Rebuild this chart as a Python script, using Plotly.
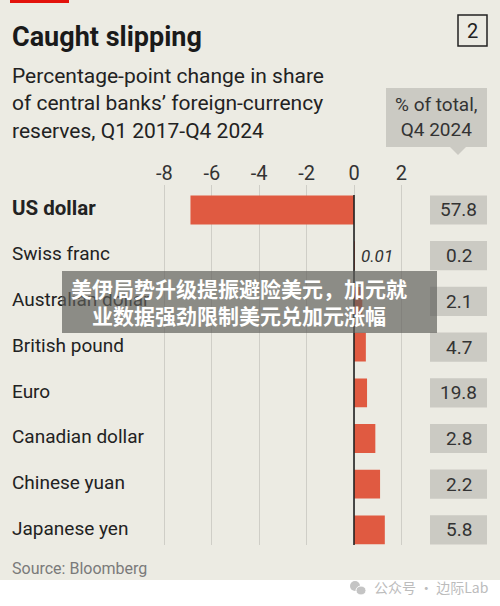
import plotly.graph_objects as go

# ---- data ----
currencies = ["US dollar", "Swiss franc", "Australian dollar", "British pound",
              "Euro", "Canadian dollar", "Chinese yuan", "Japanese yen"]
change_pp = [-6.9, 0.01, 0.35, 0.5, 0.55, 0.9, 1.1, 1.3]
share_q4_2024 = ["57.8", "0.2", "2.1", "4.7", "19.8", "2.8", "2.2", "5.8"]
tick_vals = [-8, -6, -4, -2, 0, 2]
tick_text = ["-8", "-6", "-4", "-2", "0", "2"]

W, H = 500, 606
BG = "#ecebe3"
RED = "#e05a41"
BOX = "#cbcac3"
FONT = "Roboto"

# pixel helpers (paper = whole figure since margins are 0)
def px(x):
    return x / W

def py(y):
    return 1 - y / H

# plot area geometry (pixels)
zero_px = 354.0
unit_px = 23.7
x_lo = (0 - zero_px) / unit_px
x_hi = 2.9
right_px = zero_px + x_hi * unit_px
top_px, bot_px = 185, 545
row0_px, row_step = 210.0, 45.7
y_top = (top_px - row0_px) / row_step
y_bot = (bot_px - row0_px) / row_step
label_x = (12 - zero_px) / unit_px

fig = go.Figure()

fig.add_trace(go.Bar(
    y=currencies, x=change_pp, orientation="h",
    marker=dict(color=RED, line=dict(width=0)),
    width=0.63, hoverinfo="skip", showlegend=False,
))

# category labels (as trace text so the overlay can sit on top)
fig.add_trace(go.Scatter(
    y=currencies, x=[label_x] * len(currencies), mode="text",
    text=[("<b>%s</b>" % c) if i == 0 else c for i, c in enumerate(currencies)],
    textposition="middle right", cliponaxis=False,
    textfont=dict(family=FONT, size=[20.5] + [19] * (len(currencies) - 1), color="#222222"),
    hoverinfo="skip", showlegend=False,
))

shapes = []
annotations = []

# background
shapes.append(dict(type="rect", xref="paper", yref="paper", x0=0, x1=1,
                   y0=py(580), y1=1, fillcolor=BG, line=dict(width=0), layer="below"))
# red tag top-left
shapes.append(dict(type="rect", xref="paper", yref="paper", x0=px(10), x1=px(69),
                   y0=py(3), y1=1, fillcolor="#e3120b", line=dict(width=0), layer="below"))
# zero line
shapes.append(dict(type="line", xref="x", yref="y", x0=0, x1=0,
                   y0=-0.33, y1=y_bot, line=dict(color="#222222", width=1.6), layer="above"))

# value boxes
for i, v in enumerate(share_q4_2024):
    shapes.append(dict(type="rect", xref="paper", yref="y", x0=px(430), x1=px(487),
                       y0=i - 0.32, y1=i + 0.32, fillcolor=BOX,
                       line=dict(width=0), layer="below"))
    annotations.append(dict(xref="paper", yref="y", x=px(458.5), y=i, text=v,
                            showarrow=False, xanchor="center", yanchor="middle",
                            font=dict(family=FONT, size=19, color="#333333")))

# header box with pointer
hx0, hx1, hy0, hy1 = 386, 487, 88, 147
tip_x, tip_y = 458, 155
path = "M %f %f L %f %f L %f %f L %f %f L %f %f L %f %f L %f %f Z" % (
    px(hx0), py(hy0), px(hx1), py(hy0), px(hx1), py(hy1),
    px(tip_x + 8), py(hy1), px(tip_x), py(tip_y), px(tip_x - 8), py(hy1),
    px(hx0), py(hy1))
shapes.append(dict(type="path", xref="paper", yref="paper", path=path,
                   fillcolor=BOX, line=dict(width=0), layer="below"))
annotations.append(dict(xref="paper", yref="paper", x=px(436.5), y=py(117.5),
                        text="% of total,<br>Q4 2024", showarrow=False,
                        xanchor="center", yanchor="middle",
                        font=dict(family=FONT, size=19, color="#333333")))

# chart number box
shapes.append(dict(type="rect", xref="paper", yref="paper", x0=px(458), x1=px(487),
                   y0=py(46), y1=py(15), fillcolor="rgba(0,0,0,0)",
                   line=dict(color="#222222", width=1.5), layer="below"))
annotations.append(dict(xref="paper", yref="paper", x=px(472.5), y=py(31),
                        text="2", showarrow=False, xanchor="center", yanchor="middle",
                        font=dict(family=FONT, size=20, color="#222222")))

# title & subtitle
annotations.append(dict(xref="paper", yref="paper", x=px(10), y=py(37),
                        text="<b>Caught slipping</b>", showarrow=False,
                        xanchor="left", yanchor="middle",
                        font=dict(family=FONT, size=27, color="#1a1a1a")))
annotations.append(dict(xref="paper", yref="paper", x=px(10), y=py(104),
                        text="Percentage-point change in share<br>of central banks\u2019 foreign-currency<br>reserves, Q1 2017-Q4 2024",
                        showarrow=False, xanchor="left", yanchor="middle", align="left",
                        font=dict(family=FONT, size=21, color="#222222")))

# 0.01 label
annotations.append(dict(xref="x", yref="y", x=0.2, y=1, text="<i>0.01</i>",
                        showarrow=False, xanchor="left", yanchor="middle",
                        font=dict(family=FONT, size=17, color="#333333")))

# source
annotations.append(dict(xref="paper", yref="paper", x=px(10), y=py(568),
                        text="Source: Bloomberg", showarrow=False,
                        xanchor="left", yanchor="middle",
                        font=dict(family=FONT, size=16, color="#7a7a7a")))

# watermark
shapes.append(dict(type="circle", xref="paper", yref="paper", x0=px(350), x1=px(360),
                   y0=py(591), y1=py(581), fillcolor="#c4c4c4", line=dict(width=0)))
shapes.append(dict(type="circle", xref="paper", yref="paper", x0=px(356), x1=px(366),
                   y0=py(595), y1=py(586), fillcolor="#c4c4c4", line=dict(width=1, color="white")))
annotations.append(dict(xref="paper", yref="paper", x=px(372), y=py(587),
                        text="公众号 · 边际Lab", showarrow=False,
                        xanchor="left", yanchor="middle",
                        font=dict(family="Noto Sans CJK SC", size=14, color="#bcbcbc")))

# news overlay
shapes.append(dict(type="rect", xref="paper", yref="paper", x0=px(62), x1=px(437),
                   y0=py(333), y1=py(271), fillcolor="rgba(95,95,90,0.68)",
                   line=dict(width=0), layer="above"))
annotations.append(dict(xref="paper", yref="paper", x=px(239), y=py(301),
                        text="<b>美伊局势升级提振避险美元，加元就<br>业数据强劲限制美元兑加元涨幅</b>",
                        showarrow=False, xanchor="center", yanchor="middle", align="center",
                        font=dict(family="Noto Sans CJK SC", size=21, color="white")))

fig.update_layout(
    width=W, height=H,
    margin=dict(l=0, r=0, t=0, b=0),
    paper_bgcolor="white", plot_bgcolor="rgba(0,0,0,0)",
    shapes=shapes, annotations=annotations,
    bargap=0.3,
    xaxis=dict(domain=[0, px(right_px)], range=[x_lo, x_hi],
               side="top", tickvals=tick_vals, ticktext=tick_text,
               showgrid=True, gridcolor="#cfcec7", gridwidth=1,
               zeroline=False, showline=False, ticks="",
               tickfont=dict(family=FONT, size=20, color="#333333"),
               fixedrange=True),
    yaxis=dict(domain=[py(bot_px), py(top_px)], range=[y_bot, y_top],
               showticklabels=False, showgrid=False,
               zeroline=False, showline=False, ticks="", fixedrange=True),
)

fig.write_html("out.html")
